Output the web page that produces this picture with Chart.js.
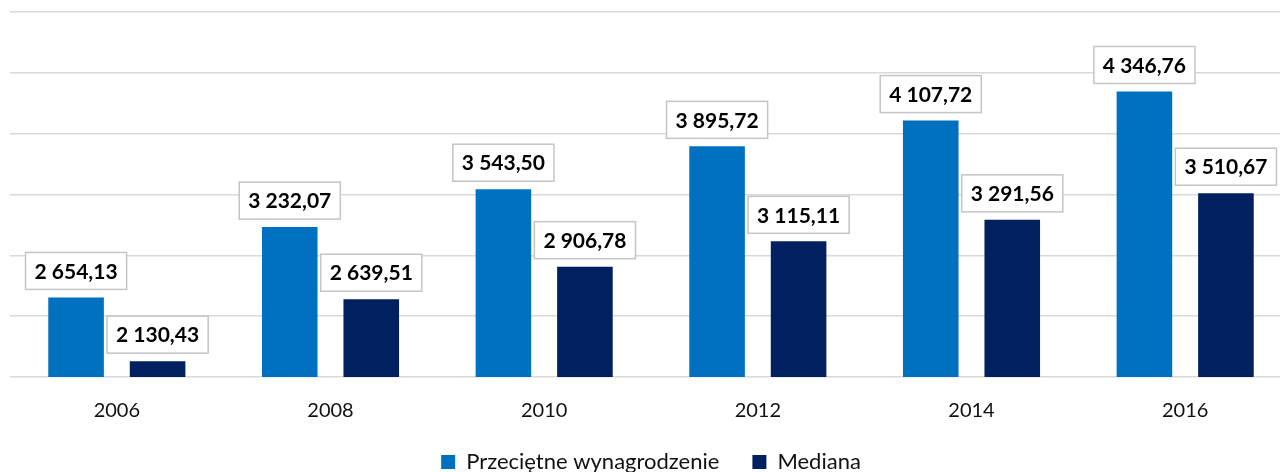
<!DOCTYPE html>
<html>
<head>
<meta charset="utf-8">
<script src="https://cdn.jsdelivr.net/npm/chart.js@4"></script>
<style>
  html, body { margin: 0; padding: 0; background: #fff; overflow: hidden; }
  #wrap { width: 1280px; height: 472px; overflow: hidden; position: relative; }
  canvas { display: block; }
</style>
</head>
<body>
<div id="wrap"><canvas id="c" width="1292" height="483"></canvas></div>
<script>
const categories = ["2006", "2008", "2010", "2012", "2014", "2016"];
const seriesNames = ["Przeciętne wynagrodzenie", "Mediana"];
const averageWage = [2654.13, 3232.07, 3543.50, 3895.72, 4107.72, 4346.76];
const medianWage = [2130.43, 2639.51, 2906.78, 3115.11, 3291.56, 3510.67];
const yMin = 2000, yMax = 5000, yStep = 500;

function fmtPL(v) {
  const parts = v.toFixed(2).split(".");
  const int = parts[0].replace(/\B(?=(\d{3})+(?!\d))/g, " ");
  return int + "," + parts[1];
}

Chart.defaults.font.family = "Lato, 'Open Sans', sans-serif";
Chart.defaults.color = "#111";

const labelBoxes = {
  id: "labelBoxes",
  afterDatasetsDraw(chart) {
    const ctx = chart.ctx;
    ctx.save();
    ctx.font = "bold 21px Lato, 'Open Sans', sans-serif";
    ctx.textAlign = "center";
    ctx.textBaseline = "middle";
    chart.data.datasets.forEach((ds, di) => {
      const meta = chart.getDatasetMeta(di);
      meta.data.forEach((bar, i) => {
        const txt = fmtPL(ds.data[i]);
        const w = ctx.measureText(txt).width + 18;
        const h = 37;
        const bottom = bar.y - 8;
        const top = bottom - h;
        const left = bar.x - w / 2;
        ctx.fillStyle = "#fff";
        ctx.fillRect(left, top, w, h);
        ctx.strokeStyle = "#c4c4c4";
        ctx.lineWidth = 1.5;
        ctx.strokeRect(left, top, w, h);
        ctx.fillStyle = "#000";
        ctx.fillText(txt, bar.x, top + h / 2 + 1);
      });
    });
    ctx.restore();
  }
};

new Chart(document.getElementById("c"), {
  type: "bar",
  data: {
    labels: categories,
    datasets: [
      { label: seriesNames[0], data: averageWage, backgroundColor: "#0070C0",
        categoryPercentage: 0.763, barPercentage: 0.682 },
      { label: seriesNames[1], data: medianWage, backgroundColor: "#002060",
        categoryPercentage: 0.763, barPercentage: 0.682 }
    ]
  },
  options: {
    responsive: false,
    animation: false,
    layout: { padding: { left: 10, right: 0, top: 12, bottom: 0 } },
    scales: {
      x: {
        grid: { display: false },
        border: { display: false },
        ticks: { font: { size: 20, lineHeight: 1 }, color: "#111", padding: 16 },
        afterFit(s) { s.height = 41; }
      },
      y: {
        min: yMin, max: yMax,
        ticks: { display: false, stepSize: yStep },
        grid: { color: "#d9d9d9", lineWidth: 1.5, drawTicks: false },
        border: { display: false },
        afterFit(s) { s.width = 0; }
      }
    },
    plugins: {
      legend: {
        position: "bottom",
        labels: { boxWidth: 14, boxHeight: 14, padding: 33, font: { size: 22 }, color: "#111" }
      },
      tooltip: { enabled: false }
    }
  },
  plugins: [labelBoxes]
});
</script>
</body>
</html>
